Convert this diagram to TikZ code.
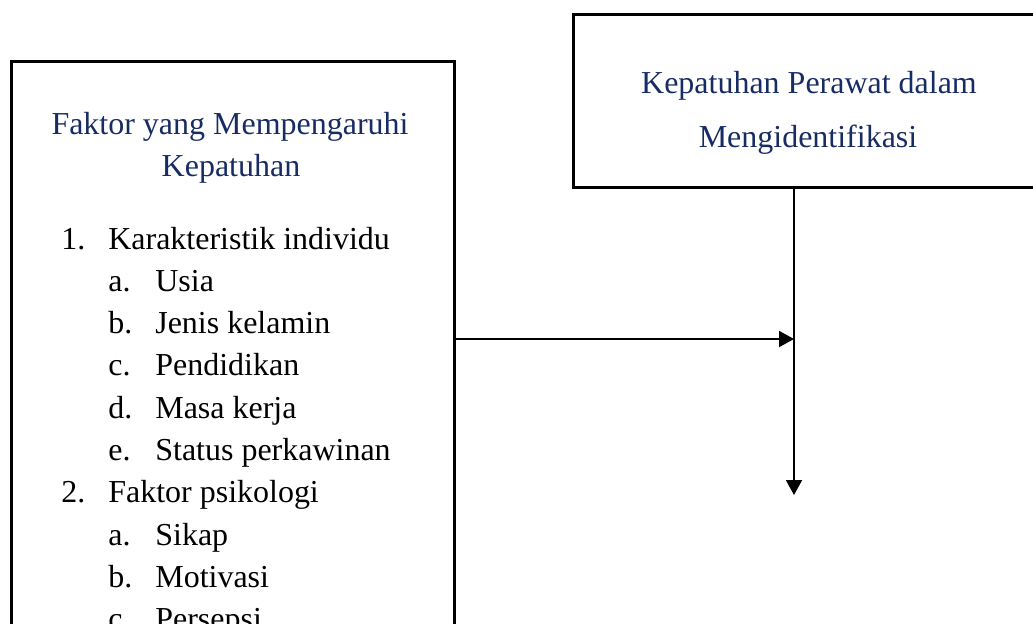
\documentclass[tikz,border=0pt]{standalone}
\usepackage{fontspec}
\setmainfont{Liberation Serif}
\usepackage{tikz}
\usetikzlibrary{arrows.meta, positioning, calc}
\definecolor{navytext}{RGB}{24,44,100}
\definecolor{linedark}{RGB}{0,0,0}
\tikzset{
  framebox/.style={rectangle, draw=linedark, line width=1.7pt, inner sep=0pt},
  titletext/.style={inner sep=0pt, anchor=base, color=navytext,
    font=\fontsize{18.2}{24}\selectfont},
  itemtext/.style={inner sep=0pt, anchor=base west, color=black,
    font=\fontsize{18.2}{24}\selectfont},
  arrow/.style={-{Triangle[length=0.3cm, width=0.32cm]}, line width=1.1pt, color=linedark}
}

\begin{document}
\begin{tikzpicture}[x=0.02cm, y=-0.02cm]
  % Page frame
  \useasboundingbox (0,0) rectangle (1033,623);
  \clip (0,0) rectangle (1033,623);

  % Boxes
  \node[framebox, anchor=north west, minimum width=8.86cm, minimum height=13cm] (faktor) at (10,60) {};
  \node[framebox, anchor=north west, minimum width=9.5cm, minimum height=3.46cm] (kepatuhan) at (572,13) {};

  % Titles
  \node[titletext] (faktorA) at (230,134) {Faktor yang Mempengaruhi};
  \node[titletext] (faktorB) at (231,176) {Kepatuhan};
  \node[titletext] (kepatuhanA) at (809,93) {Kepatuhan Perawat dalam};
  \node[titletext] (kepatuhanB) at (808,147) {Mengidentifikasi};

  % List
  \foreach \k/\num/\lvl/\txt in {0/1./0/Karakteristik individu, 1/a./1/Usia,
      2/b./1/Jenis kelamin, 3/c./1/Pendidikan, 4/d./1/Masa kerja,
      5/e./1/Status perkawinan, 6/2./0/Faktor psikologi, 7/a./1/Sikap,
      8/b./1/Motivasi, 9/c./1/Persepsi}{
    \node[itemtext] (num\k) at ({61+47*\lvl}, {249+42.3*\k}) {\num};
    \node[itemtext] (item\k) at ({108+47*\lvl}, {249+42.3*\k}) {\txt};
  }

  % Connectors
  \coordinate (join) at (794,339);
  \coordinate (outlet) at (794,495);
  \draw[arrow] (faktor.east |- join) -- (join);
  \draw[arrow] (kepatuhan.south -| join) -- (outlet);

\end{tikzpicture}
\end{document}
